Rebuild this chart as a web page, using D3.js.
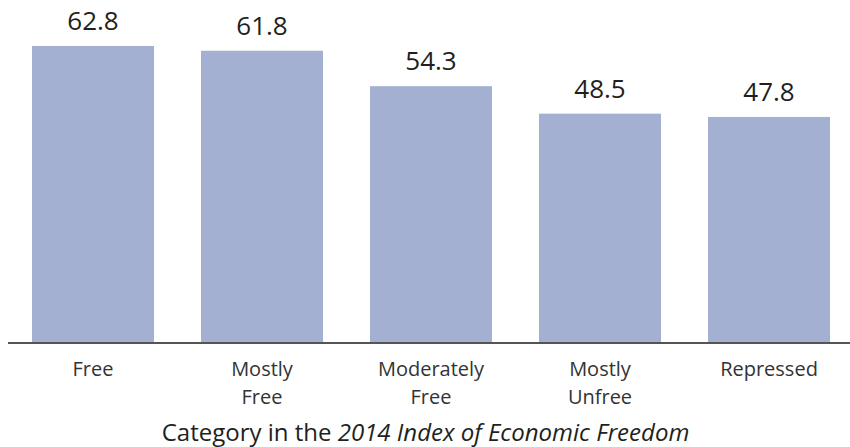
<!DOCTYPE html>
<html>
<head>
<meta charset="utf-8">
<script src="https://cdn.jsdelivr.net/npm/d3@7"></script>
<style>
  html, body { margin: 0; padding: 0; background: #fff; }
  svg { display: block; }
  text { font-family: "Open Sans", sans-serif; }
</style>
</head>
<body>
<svg id="chart" width="850" height="447"></svg>
<script>
const categories = ["Free", "Mostly Free", "Moderately Free", "Mostly Unfree", "Repressed"];
const categoryLines = [["Free"], ["Mostly", "Free"], ["Moderately", "Free"], ["Mostly", "Unfree"], ["Repressed"]];
const values = [62.8, 61.8, 54.3, 48.5, 47.8];
const valueLabels = ["62.8", "61.8", "54.3", "48.5", "47.8"];

const svg = d3.select("#chart");
const W = 850, baseY = 343;

const x = d3.scaleBand()
  .domain(categories)
  .range([8.5, 853.5])
  .paddingInner(0.278)
  .paddingOuter(0.139);

const y = d3.scaleLinear()
  .domain([0, 62.8])
  .range([baseY, 46]);

const data = categories.map((c, i) => ({ c, v: values[i], label: valueLabels[i], lines: categoryLines[i] }));

svg.selectAll("rect.bar")
  .data(data)
  .join("rect")
  .attr("class", "bar")
  .attr("x", d => x(d.c))
  .attr("width", x.bandwidth())
  .attr("y", d => y(d.v))
  .attr("height", d => baseY - y(d.v))
  .attr("fill", "#a4b0d1");

svg.selectAll("text.val")
  .data(data)
  .join("text")
  .attr("class", "val")
  .attr("x", d => x(d.c) + x.bandwidth() / 2)
  .attr("y", d => y(d.v) - 16)
  .attr("text-anchor", "middle")
  .attr("font-size", 26)
  .attr("fill", "#231f20")
  .text(d => d.label);

// axis line
svg.append("line")
  .attr("x1", 8).attr("x2", W)
  .attr("y1", baseY).attr("y2", baseY)
  .attr("stroke", "#555")
  .attr("stroke-width", 2);

// category labels, one text element per line
const catLines = data.flatMap(d => d.lines.map((l, i) => ({ l, i, cx: x(d.c) + x.bandwidth() / 2 })));
svg.selectAll("text.cat")
  .data(catLines)
  .join("text")
  .attr("class", "cat")
  .attr("x", t => t.cx)
  .attr("y", t => 376 + t.i * 27.5)
  .attr("text-anchor", "middle")
  .attr("font-size", 20)
  .attr("fill", "#333")
  .text(t => t.l);

const title = svg.append("text")
  .attr("x", 425.5)
  .attr("y", 441)
  .attr("text-anchor", "middle")
  .attr("font-size", 24)
  .attr("fill", "#231f20");
title.append("tspan").text("Category in the ");
title.append("tspan").attr("font-style", "italic").text("2014 Index of Economic Freedom");
</script>
</body>
</html>
